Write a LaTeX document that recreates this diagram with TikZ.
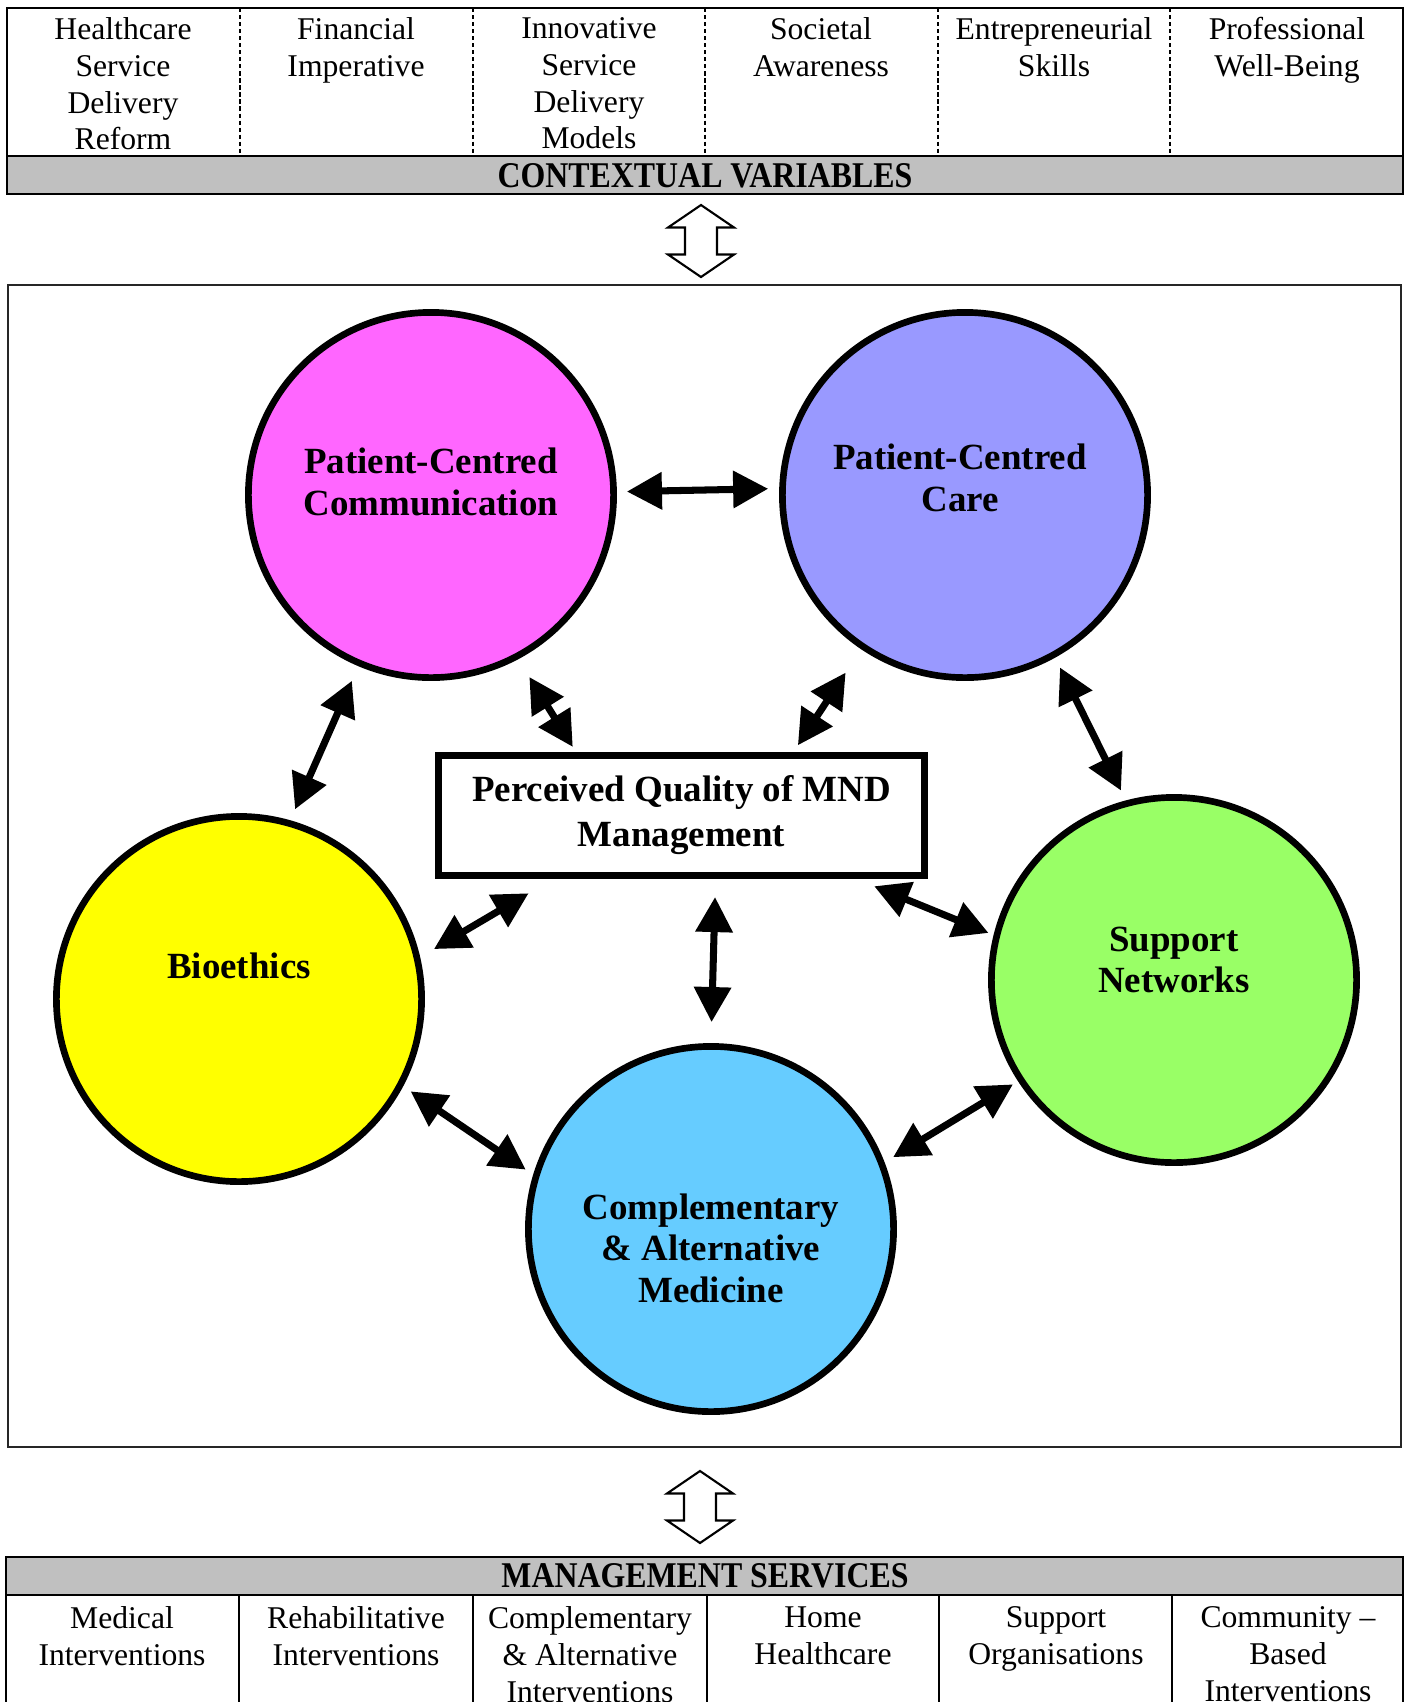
\documentclass[tikz,border=0pt]{standalone}
\usepackage{fontspec}
\setmainfont{Liberation Serif}
\usetikzlibrary{positioning,arrows.meta,calc}
\definecolor{commpink}{HTML}{FF66FF}
\definecolor{carelilac}{HTML}{9999FF}
\definecolor{ethicyellow}{HTML}{FFFF00}
\definecolor{netgreen}{HTML}{99FF66}
\definecolor{camblue}{HTML}{66CCFF}
\definecolor{bandgrey}{HTML}{C0C0C0}
\tikzset{
  factor/.style={circle,draw,line width=1.9pt,minimum size=3.65cm,inner sep=0pt},
  factortext/.style={align=center,inner sep=0pt,font=\fontsize{10.5}{11.8}\selectfont\bfseries},
  cell/.style={anchor=north,align=center,inner sep=0pt,font=\fontsize{9}{10.45}\selectfont},
  bandtitle/.style={inner sep=0pt,xscale=0.88,font=\fontsize{10.3}{12}\selectfont\bfseries},
  every edge/.style={draw,line width=2pt,{Triangle[length=0.35cm,width=0.36cm]}-{Triangle[length=0.35cm,width=0.36cm]}},
  updown/.pic={
    \draw[line width=0.6pt,fill=white] (0,-36) -- (33,-13.5) -- (16,-13.5) -- (16,13.5) -- (33,13.5)
      -- (0,36) -- (-33,13.5) -- (-16,13.5) -- (-16,-13.5) -- (-33,-13.5) -- cycle;
  },
}

\begin{document}
\begin{tikzpicture}[x=0.01cm,y=-0.01cm]

\clip (0,0) rectangle (1409,1702);

% contextual variables
\fill[bandgrey] (7,156) rectangle (1403,194);
\draw[line width=0.7pt] (7,8) rectangle (1403,194) (7,156) -- (1403,156);
\draw[line width=0.5pt,dash pattern=on 1.2pt off 0.8pt]
  (240,8) -- (240,156) (473,8) -- (473,156) (705,8) -- (705,156)
  (938,8) -- (938,156) (1170,8) -- (1170,156);
\node[cell] (ctx1) at (123,17) {Healthcare\\Service\\Delivery\\Reform};
\node[cell] (ctx2) at (356,17) {Financial\\Imperative};
\node[cell] (ctx3) at (589,17) {Innovative\\Service\\Delivery\\Models};
\node[cell] (ctx4) at (821,17) {Societal\\Awareness};
\node[cell] (ctx5) at (1054,17) {Entrepreneurial\\Skills};
\node[cell] (ctx6) at (1287,17) {Professional\\Well-Being};
\node[bandtitle] (ctxtitle) at (705,175.5) {CONTEXTUAL VARIABLES};

\pic (ctxlink) at (701,241) {updown};

% model
\draw[line width=0.7pt,black!85] (8,285) rectangle (1401,1447);

\node[factor,fill=commpink] (pcc) at (431,495) {};
\node[factor,fill=carelilac] (pcare) at (965,495) {};
\node[factor,fill=ethicyellow] (bio) at (239,999) {};
\node[factor,fill=netgreen] (supp) at (1174,980) {};
\node[factor,fill=camblue] (cam) at (711,1229) {};

\node[factortext,yshift=0.13cm] (pcclabel) at (pcc) {Patient-Centred\\Communication};
\node[factortext,xshift=-0.05cm,yshift=0.17cm] (pcarelabel) at (pcare) {Patient-Centred\\Care};
\node[factortext,yshift=0.33cm] (biolabel) at (bio) {Bioethics};
\node[factortext,yshift=0.2cm] (supplabel) at (supp) {Support\\Networks};
\node[factortext,yshift=-0.19cm] (camlabel) at (cam) {Complementary\\\& Alternative\\Medicine};

\node[draw,line width=2pt,minimum width=4.86cm,minimum height=1.2cm,inner sep=0pt,align=center,
  font=\fontsize{10.5}{12.8}\selectfont\bfseries] (qual) at (681.5,815.5) {Perceived Quality of MND\\Management};

\path
(pcc.1) edge[shorten <=0.1cm,shorten >=0.11cm] (pcare.178)
(pcc.247) edge[shorten <=0.16cm,shorten >=0.12cm] (bio.74)
(pcare.299) edge[shorten <=0.11cm,shorten >=0.11cm] (supp.105)
(bio.332) edge[shorten <=0.09cm,shorten >=0.09cm] (cam.163)
(supp.213) edge[shorten <=0.06cm,shorten >=0.1cm] (cam.21)
(pcc.298) edge[shorten <=0.21cm,shorten >=0.06cm] ($(qual.north west)!0.286!(qual.north east)$)
(pcare.236) edge[shorten <=0.28cm,shorten >=0.08cm] ($(qual.north west)!0.727!(qual.north east)$)
($(qual.south west)!0.239!(qual.south east)$) edge[shorten <=0.28cm,shorten >=0.16cm] (bio.13)
($(qual.south west)!0.569!(qual.south east)$) edge[shorten <=0.18cm,shorten >=0.21cm] (cam.90)
($(qual.south west)!0.855!(qual.south east)$) edge[shorten <=0.19cm,shorten >=0.055cm] (supp.166);

\pic (servlink) at (700,1507) {updown};

% management services
\fill[bandgrey] (6,1557) rectangle (1403,1595);
\draw[line width=0.7pt] (6,1720) -- (6,1557) -- (1403,1557) -- (1403,1720) (6,1595) -- (1403,1595);
\draw[line width=0.7pt]
  (239,1595) -- (239,1720) (473,1595) -- (473,1720) (707,1595) -- (707,1720)
  (939,1595) -- (939,1720) (1172,1595) -- (1172,1720);
\node[bandtitle] (servtitle) at (705,1576) {MANAGEMENT SERVICES};
\node[cell] (serv1) at (122,1606) {Medical\\Interventions};
\node[cell] (serv2) at (356,1606) {Rehabilitative\\Interventions};
\node[cell] (serv3) at (590,1606) {Complementary\\\& Alternative\\Interventions};
\node[cell] (serv4) at (823,1606) {Home\\Healthcare};
\node[cell] (serv5) at (1056,1606) {Support\\Organisations};
\node[cell] (serv6) at (1288,1606) {Community \textendash\\Based\\Interventions};

\end{tikzpicture}
\end{document}
